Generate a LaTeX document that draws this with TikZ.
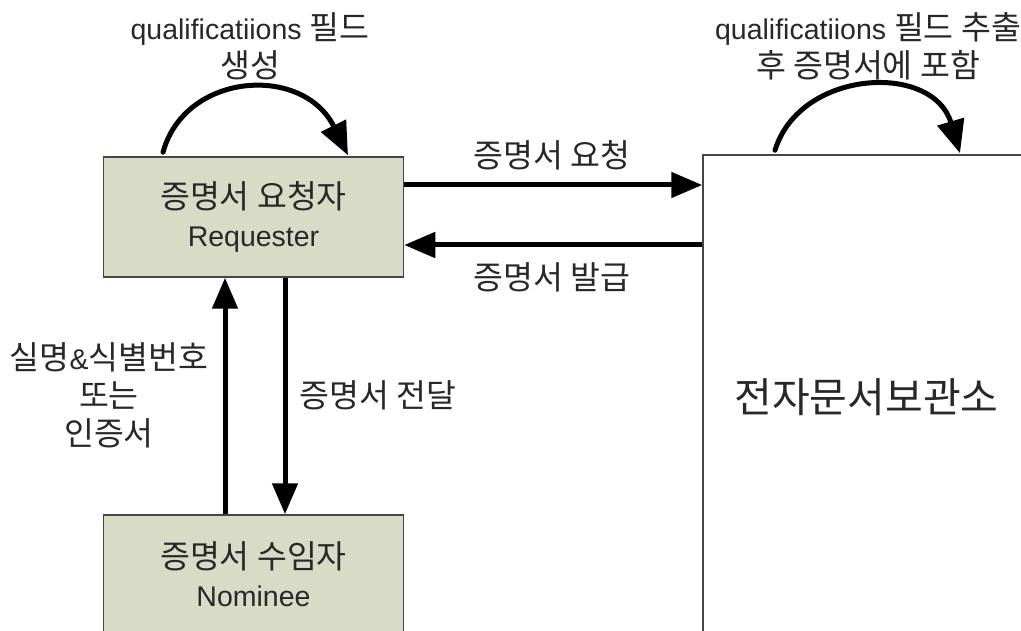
\documentclass[tikz,border=0pt]{standalone}
\usepackage{fontspec}
\setmainfont{Liberation Sans}
\newfontfamily\kr[Scale=1.14]{Noto Sans CJK KR}
\usetikzlibrary{arrows.meta}
\definecolor{boxfill}{RGB}{216,220,199}
\definecolor{boxline}{RGB}{70,70,70}
\definecolor{txt}{RGB}{40,40,40}
\begin{document}
\begin{tikzpicture}[x=1pt,y=-1pt,
  font=\fontsize{28.5}{38}\selectfont,
  txtnode/.style={text=txt,align=center,inner sep=0pt},
  actor/.style={draw=boxline,line width=1.5pt,fill=boxfill,minimum width=300pt,inner sep=0pt,text=txt,align=center},
  store/.style={draw=boxline,line width=1.5pt,fill=white,inner sep=0pt,text=txt},
  flow/.style={line width=5pt,-{Triangle[length=31pt,width=25pt]}},
  loop/.style={line width=5pt,line cap=round,-{Triangle[length=33pt,width=27pt]}}]
\useasboundingbox (0,0) rectangle (1021,631);
\fill[white] (0,0) rectangle (1021,631);
% boxes
\node[actor,minimum height=120pt] (req) at (253.5,217) {{\kr 증명서 요청자}\\Requester};
\node[actor,minimum height=118pt] (nom) at (253.5,574) {{\kr 증명서 수임자}\\Nominee};
\node[store,minimum width=327pt,minimum height=484pt] (arch) at (866.5,397) {\fontsize{36}{44}\selectfont\kr 전자문서보관소};
% helper coordinates
\coordinate (yreq) at (0,185);
\coordinate (yiss) at (0,245);
\coordinate (xup) at (225,0);
\coordinate (xdn) at (285,0);
\coordinate (l1s) at (163,0);
\coordinate (l1e) at (348,0);
\coordinate (l2s) at (775,0);
\coordinate (l2e) at (960,0);
% horizontal flows
\draw[flow] (req.east |- yreq) -- (arch.west |- yreq);
\draw[flow] (arch.west |- yiss) -- (req.east |- yiss);
% vertical flows
\draw[flow] (nom.north -| xup) -- (req.south -| xup);
\draw[flow] (req.south -| xdn) -- (nom.north -| xdn);
% loops
\draw[loop] (l1s |- req.north) ++(0,-4) .. controls (185,72) and (303,64) .. ([yshift=1pt]l1e |- req.north);
\draw[loop] (l2s |- arch.north) ++(0,-4) .. controls (800,69) and (933,62) .. ([yshift=1pt]l2e |- arch.north);
% labels
\node[txtnode] (lab1) at (250,46) {qualificatiions {\kr 필드}\\{\kr 생성}};
\node[txtnode] (lab2) at (868,46) {qualificatiions {\kr 필드 추출}\\{\kr 후 증명서에 포함}};
\node[txtnode] (lreq) at (552,155) {\kr 증명서 요청};
\node[txtnode] (liss) at (552,277) {\kr 증명서 발급};
\node[txtnode] (ldel) at (378,395) {\kr 증명서 전달};
\node[txtnode] (lid) at (109,395) {{\kr 실명}\&{\kr 식별번호}\\{\kr 또는}\\{\kr 인증서}};
\end{tikzpicture}
\end{document}
